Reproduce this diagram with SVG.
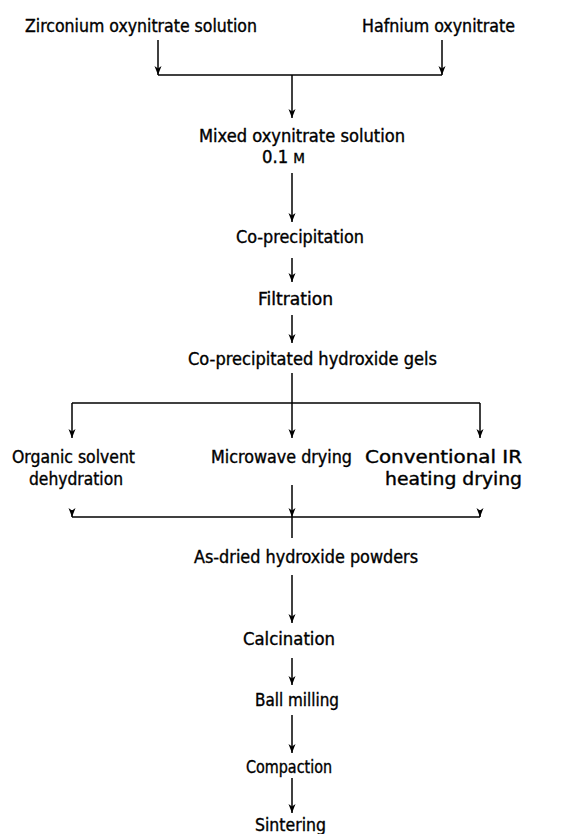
<svg xmlns="http://www.w3.org/2000/svg" width="574" height="834" viewBox="0 0 574 834">
<style>
text{font-family:"DejaVu Sans Condensed","DejaVu Sans","Liberation Sans",sans-serif;font-size:17px;fill:#000;stroke:#000;stroke-width:0.35}
.c line{stroke:#000;stroke-width:1.5;fill:none}
.a{marker-end:url(#ah)}
</style>
<defs>
<marker id="ah" markerUnits="userSpaceOnUse" markerWidth="10" markerHeight="10" viewBox="0 0 10 8" refX="9" refY="4" orient="auto">
<path d="M0,0.5 L9,4 L0,7.5 L2.5,4 z" fill="#000"/>
</marker>
</defs>
<rect width="574" height="834" fill="#fff"/>
<g id="zr"><text x="25" y="32" textLength="232" lengthAdjust="spacingAndGlyphs">Zirconium oxynitrate solution</text></g>
<g id="hf"><text x="362" y="32" textLength="153" lengthAdjust="spacingAndGlyphs">Hafnium  oxynitrate</text></g>
<g id="mixed"><text x="199" y="142" textLength="206" lengthAdjust="spacingAndGlyphs">Mixed oxynitrate solution</text><text x="262" y="163" textLength="43" lengthAdjust="spacingAndGlyphs">0.1 <tspan font-size="14">M</tspan></text></g>
<g id="coprec"><text x="236" y="243" textLength="128" lengthAdjust="spacingAndGlyphs">Co-precipitation</text></g>
<g id="filt"><text x="258" y="305" textLength="75" lengthAdjust="spacingAndGlyphs">Filtration</text></g>
<g id="gels"><text x="188" y="365" textLength="249" lengthAdjust="spacingAndGlyphs">Co-precipitated  hydroxide gels</text></g>
<g id="organic"><text x="12" y="463" textLength="123" lengthAdjust="spacingAndGlyphs">Organic solvent</text><text x="29" y="485" textLength="94" lengthAdjust="spacingAndGlyphs">dehydration</text></g>
<g id="micro"><text x="211" y="463" textLength="141" lengthAdjust="spacingAndGlyphs">Microwave drying</text></g>
<g id="conv"><text x="365" y="463" textLength="157" lengthAdjust="spacingAndGlyphs">Conventional IR</text><text x="385" y="485" textLength="137" lengthAdjust="spacingAndGlyphs">heating drying</text></g>
<g id="asdried"><text x="194" y="563" textLength="224" lengthAdjust="spacingAndGlyphs">As-dried  hydroxide powders</text></g>
<g id="calc"><text x="243" y="645" textLength="92" lengthAdjust="spacingAndGlyphs">Calcination</text></g>
<g id="ball"><text x="255" y="706" textLength="84" lengthAdjust="spacingAndGlyphs">Ball milling</text></g>
<g id="compact"><text x="246" y="773" textLength="86" lengthAdjust="spacingAndGlyphs">Compaction</text></g>
<g id="sinter"><text x="255" y="831" textLength="71" lengthAdjust="spacingAndGlyphs">Sintering</text></g>
<g id="connectors" class="c">
<line class="a" x1="158" y1="40" x2="158" y2="75"/>
<line class="a" x1="442" y1="40" x2="442" y2="75"/>
<line x1="158" y1="75" x2="442" y2="75"/>
<line class="a" x1="292" y1="75" x2="292" y2="118"/>
<line class="a" x1="292" y1="173" x2="292" y2="222"/>
<line class="a" x1="292" y1="258" x2="292" y2="282"/>
<line class="a" x1="292" y1="315" x2="292" y2="343"/>
<line class="a" x1="292" y1="373" x2="292" y2="438"/>
<line x1="72" y1="403" x2="480" y2="403"/>
<line class="a" x1="72" y1="403" x2="72" y2="438"/>
<line class="a" x1="480" y1="403" x2="480" y2="438"/>
<line class="a" x1="72" y1="510" x2="72" y2="517"/>
<line class="a" x1="480" y1="510" x2="480" y2="517"/>
<line x1="72" y1="517" x2="480" y2="517"/>
<line class="a" x1="292" y1="485" x2="292" y2="517"/>
<line x1="292" y1="517" x2="292" y2="538"/>
<line class="a" x1="292" y1="575" x2="292" y2="623"/>
<line class="a" x1="292" y1="658" x2="292" y2="685"/>
<line class="a" x1="292" y1="715" x2="292" y2="753"/>
<line class="a" x1="292" y1="778" x2="292" y2="813"/>
</g>
</svg>
